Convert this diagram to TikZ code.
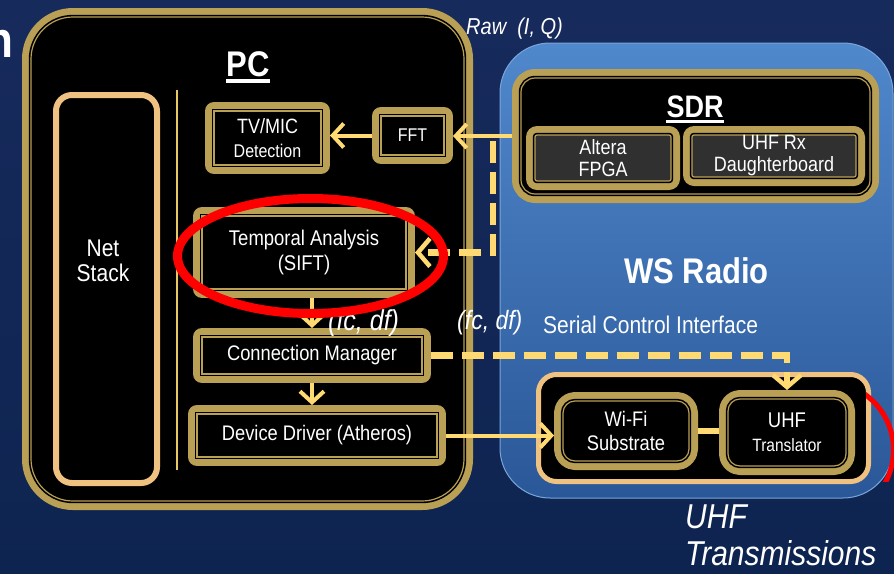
\documentclass[tikz,border=0pt]{standalone}
\usepackage{fontspec}
\setmainfont{Liberation Sans}
\usetikzlibrary{arrows.meta}
\definecolor{gold}{HTML}{B9A055}
\definecolor{lgold}{HTML}{FFDA72}
\definecolor{sepgold}{HTML}{E8C860}
\definecolor{peach}{HTML}{F0C282}
\definecolor{bgtop}{HTML}{172A5C}
\definecolor{bgbot}{HTML}{0E2450}
\definecolor{wstop}{HTML}{5088CC}
\definecolor{wsbot}{HTML}{2A5797}
\definecolor{wsedge}{HTML}{7AA6DC}
\definecolor{chip}{HTML}{303030}
\newcommand\fsz[2]{\fontsize{#1pt}{#2pt}\selectfont}
\newcommand\vs[1]{\scalebox{1}[1.15]{#1}}
\begin{document}
\begin{tikzpicture}[x=1pt,y=-1pt,
  gbox/.style={rectangle, fill=black, draw=gold, line width=1.2pt, inner sep=0pt, outer sep=9pt,
    text=white, align=center, font=\fsz{18.3}{24},
    preaction={draw=gold, line width=18pt, line join=round},
    preaction={draw=black, line width=4.4pt}},
  pbox/.style={rectangle, fill=black, draw=peach, inner sep=0pt},
  arr/.style={draw=lgold, line width=4pt, -{Straight Barb[length=11pt,width=24pt]}},
  dasharr/.style={draw=lgold, line width=6.5pt, dash pattern=on 22pt off 9pt, -{Straight Barb[length=12pt,width=28pt,line width=4.5pt]}},
  link/.style={draw=lgold, line width=6pt},
  lbl/.style={text=white, inner sep=0pt},
]
\useasboundingbox (0,0) rectangle (894,573);
\shade[top color=bgtop, bottom color=bgbot] (0,0) rectangle (894,573);
\node[lbl, anchor=base east, font=\bfseries\fsz{44}{44}] (cut) at (14,57) {\vs{n}};

% WS Radio
\node[rectangle, draw=wsedge, line width=1pt, top color=wstop, bottom color=wsbot, rounded corners=50pt,
  minimum width=393pt, minimum height=455pt] (ws) at (696.5,270.5) {};
\node[lbl, anchor=base, font=\bfseries\fsz{31}{31}] (wst) at (696.5,283) {\vs{WS Radio}};

% PC
\node[gbox, rounded corners=42pt, minimum width=433pt, minimum height=484pt] (pc) at (247.5,259) {};
\node[lbl, anchor=base, font=\bfseries\fsz{31}{31}] (pct) at (248,76) {\vs{PC}};
\draw[white, line width=3.5pt] ([yshift=-5pt]pct.base west) -- ([yshift=-5pt]pct.base east);

\node[pbox, line width=6pt, rounded corners=16pt, minimum width=101pt, minimum height=388pt] (net) at (106.5,289) {};
\node[lbl, align=center, font=\fsz{21}{25}] (nett) at (103,261) {\vs{Net}\\\vs{Stack}};
\draw[sepgold, line width=1.5pt] (177,90) -- (177,470);

\node[gbox, minimum width=107pt, minimum height=54pt] (tv) at (267.5,138) {\fsz{18}{20}\vs{TV/MIC}\\\fsz{16}{20}\vs{Detection}};
\node[gbox, minimum width=63pt, minimum height=39pt, font=\fsz{16}{18}] (fft) at (412.5,135.5) {\vs{FFT}};
\node[gbox, minimum width=204pt, minimum height=73pt, font=\fsz{18.5}{25}] (temporal) at (304,252.5) {\vs{Temporal Analysis}\\\vs{(SIFT)}};
\node[gbox, minimum width=220pt, minimum height=37pt] (cm) at (312,355.5) {\vs{Connection Manager}};
\node[gbox, minimum width=240pt, minimum height=43pt] (dd) at (317,435.5) {\vs{Device Driver (Atheros)}};

% SDR
\node[gbox, rounded corners=14pt, minimum width=349pt, minimum height=116pt] (sdr) at (695.5,136) {};
\node[lbl, anchor=base, font=\bfseries\fsz{27}{27}] (sdrt) at (695,117) {\vs{SDR}};
\draw[white, line width=3pt] ([yshift=-4.5pt]sdrt.base west) -- ([yshift=-4.5pt]sdrt.base east);
\node[gbox, fill=chip, rounded corners=2pt, minimum width=136pt, minimum height=46pt, font=\fsz{18}{22}] (altera) at (603,158) {\vs{Altera}\\\vs{FPGA}};
\node[gbox, fill=chip, rounded corners=2pt, minimum width=164pt, minimum height=42pt, font=\fsz{18}{22}] (rx) at (774,156) {\vs{UHF Rx}\\\vs{Daughterboard}};

% radio front end
\node[pbox, line width=5pt, rounded corners=18pt, minimum width=330pt, minimum height=107pt] (fe) at (703.5,428) {};
\node[gbox, rounded corners=12pt, minimum width=126pt, minimum height=60pt, font=\fsz{18.3}{24}] (wifi) at (626,431) {\vs{Wi-Fi}\\\vs{Substrate}};
\node[gbox, rounded corners=12pt, minimum width=118pt, minimum height=67pt] (uhft) at (787,432.5) {\fsz{18.5}{22}\vs{UHF}\\\fsz{15.5}{22}\vs{Translator}};

% labels
\node[lbl, anchor=base west, font=\itshape\fsz{20}{20}] (raw) at (466,34) {\vs{Raw~ (I, Q)}};
\node[lbl, anchor=base west, font=\itshape\fsz{25}{25}] (fc1) at (328,330) {\vs{(fc, df)}};
\node[lbl, anchor=base west, font=\itshape\fsz{23}{23}] (fc2) at (457,329) {\vs{(fc, df)}};
\node[lbl, anchor=base west, font=\fsz{21}{21}] (sci) at (543,333) {\vs{Serial Control Interface}};
\node[lbl, anchor=base west, align=left, font=\itshape\fsz{30}{37}] (uhftx) at (685,565) {\vs{UHF}\\\vs{Transmissions}};

% connectors
\coordinate (dtop) at (493,141);
\draw[arr] (sdr.west) -- (sdr.west -| fft.east);
\draw[arr] (fft.west) -- (fft.west -| tv.east);
\draw[dasharr] (dtop) |- (temporal.east);
\draw[arr] (temporal.south -| cm.north) -- (cm.north);
\draw[arr] (cm.south) -- (cm.south |- dd.north);
\draw[arr] (dd.east) -- (dd.east -| wifi.west);
\draw[link] (wifi.east) -- (wifi.east -| uhft.west);
\draw[dasharr] (cm.east) -| (uhft.north);

% red annotations
\draw[red, line width=9pt] (310.5,256) ellipse [x radius=133, y radius=57.5];
\begin{scope}
\clip (866,388) rectangle (900,481);
\draw[red, line width=5pt] (825,450) circle [radius=68.5];
\end{scope}
\end{tikzpicture}
\end{document}
